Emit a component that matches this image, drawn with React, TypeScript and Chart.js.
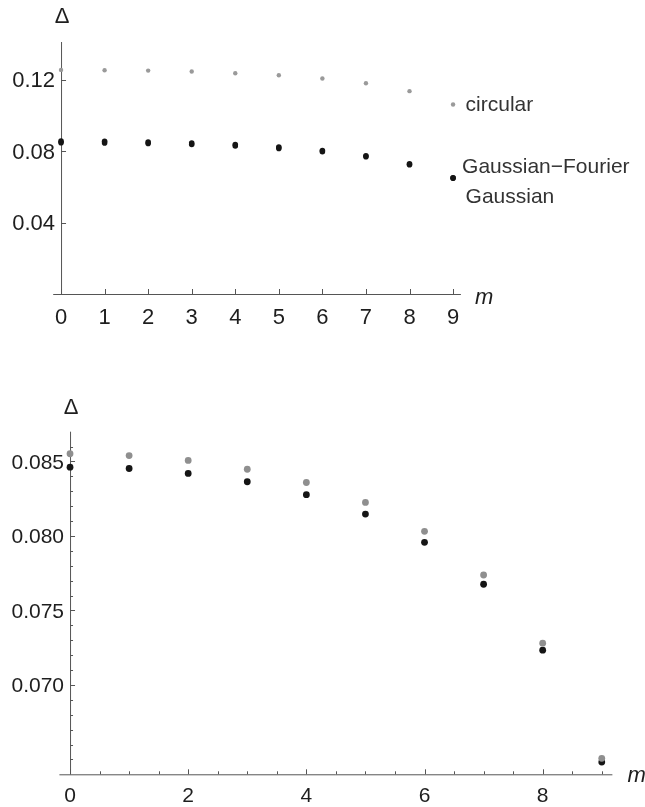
import React, { useEffect, useRef } from "react";
import { Chart, registerables } from "chart.js";

Chart.register(...registerables);

// ---------- data ----------
const mValues = [0, 1, 2, 3, 4, 5, 6, 7, 8, 9];
const circular = [0.1254, 0.1252, 0.125, 0.1245, 0.1235, 0.1224, 0.1206, 0.1179, 0.1135, 0.106];
const gaussianFourier = [0.08552, 0.0854, 0.08507, 0.08448, 0.08359, 0.08225, 0.08031, 0.07738, 0.0728, 0.06507];
const gaussian = [0.08462, 0.08453, 0.0842, 0.08364, 0.08277, 0.08147, 0.07957, 0.07676, 0.07233, 0.06482];

const seriesLabels = ["circular", "Gaussian\u2212Fourier", "Gaussian"];
const yAxisTitle = "\u0394";
const xAxisTitle = "m";

const topXTicks = [0, 1, 2, 3, 4, 5, 6, 7, 8, 9];
const topXTickLabels = ["0", "1", "2", "3", "4", "5", "6", "7", "8", "9"];
const topYTicks = [0.04, 0.08, 0.12];
const topYTickLabels = ["0.04", "0.08", "0.12"];

const bottomXTicks = [0, 2, 4, 6, 8];
const bottomXTickLabels = ["0", "2", "4", "6", "8"];
const bottomXMinorTicks = [0.5, 1, 1.5, 2.5, 3, 3.5, 4.5, 5, 5.5, 6.5, 7, 7.5, 8.5, 9];
const bottomYTicks = [0.07, 0.075, 0.08, 0.085];
const bottomYTickLabels = ["0.070", "0.075", "0.080", "0.085"];
const bottomYMinorTicks = [0.065, 0.066, 0.067, 0.068, 0.069, 0.071, 0.072, 0.073, 0.074, 0.076, 0.077, 0.078, 0.079, 0.081, 0.082, 0.083, 0.084, 0.086];

const FONT = '"Liberation Sans", Arial, Helvetica, sans-serif';
const AXIS_COLOR = "#555555";
const TEXT_COLOR = "#1e1e1e";

type AxesCfg = {
  xMajor: number[];
  xLabels: string[];
  xMinor: number[];
  yMajor: number[];
  yLabels: string[];
  yMinor: number[];
  tickFont: number;
  xLabelDrop: number;
  titleFont: number;
  deltaRise: number;
  mOffsetX: number;
  mOffsetY: number;
  legend?: boolean;
};

const axesPlugin = {
  id: "mathAxes",
  beforeDatasetsDraw(chart: any, _args: any, opts: AxesCfg) {
    const ctx = chart.ctx;
    const xs = chart.scales.x;
    const ys = chart.scales.y;
    const x0 = xs.getPixelForValue(0);
    const yBase = ys.getPixelForValue(ys.min);
    const yTop = ys.getPixelForValue(ys.max);
    const xLeft = xs.getPixelForValue(xs.min);
    const xRight = xs.getPixelForValue(xs.max);
    ctx.save();
    ctx.strokeStyle = AXIS_COLOR;
    ctx.lineWidth = 1;
    ctx.beginPath();
    ctx.moveTo(xLeft, yBase + 0.5);
    ctx.lineTo(xRight, yBase + 0.5);
    ctx.moveTo(x0 + 0.5, yBase);
    ctx.lineTo(x0 + 0.5, yTop);
    opts.xMajor.forEach((v) => {
      const p = Math.round(xs.getPixelForValue(v)) + 0.5;
      ctx.moveTo(p, yBase);
      ctx.lineTo(p, yBase - 5);
    });
    opts.xMinor.forEach((v) => {
      const p = Math.round(xs.getPixelForValue(v)) + 0.5;
      ctx.moveTo(p, yBase);
      ctx.lineTo(p, yBase - 3);
    });
    opts.yMajor.forEach((v) => {
      const p = Math.round(ys.getPixelForValue(v)) + 0.5;
      ctx.moveTo(x0, p);
      ctx.lineTo(x0 + 5, p);
    });
    opts.yMinor.forEach((v) => {
      const p = Math.round(ys.getPixelForValue(v)) + 0.5;
      ctx.moveTo(x0, p);
      ctx.lineTo(x0 + 3, p);
    });
    ctx.stroke();

    ctx.fillStyle = TEXT_COLOR;
    ctx.font = `${opts.tickFont}px ${FONT}`;
    ctx.textBaseline = "alphabetic";
    ctx.textAlign = "center";
    opts.xMajor.forEach((v, i) => {
      ctx.fillText(opts.xLabels[i], xs.getPixelForValue(v), yBase + opts.xLabelDrop);
    });
    ctx.textAlign = "right";
    opts.yMajor.forEach((v, i) => {
      ctx.fillText(opts.yLabels[i], x0 - 6, ys.getPixelForValue(v) + opts.tickFont * 0.35);
    });
    ctx.font = `${opts.titleFont}px ${FONT}`;
    ctx.textAlign = "center";
    ctx.fillText(yAxisTitle, x0 + 1, yTop - opts.deltaRise);
    ctx.font = `italic ${opts.titleFont}px ${FONT}`;
    ctx.textAlign = "left";
    ctx.fillText(xAxisTitle, xRight + opts.mOffsetX, yBase + opts.mOffsetY);
    ctx.restore();
  },
  afterDatasetsDraw(chart: any, _args: any, opts: AxesCfg) {
    if (!opts.legend) return;
    const ctx = chart.ctx;
    const xs = chart.scales.x;
    const ys = chart.scales.y;
    const last = mValues.length - 1;
    const px = xs.getPixelForValue(mValues[last]);
    const pc = ys.getPixelForValue(circular[last]);
    const pg = ys.getPixelForValue((gaussianFourier[last] + gaussian[last]) / 2);
    ctx.save();
    ctx.fillStyle = "#333333";
    ctx.font = `21px ${FONT}`;
    ctx.textAlign = "left";
    ctx.textBaseline = "alphabetic";
    ctx.fillText(seriesLabels[0], px + 12.5, pc + 6.5);
    ctx.fillText(seriesLabels[1], px + 9, pg - 5);
    ctx.fillText(seriesLabels[2], px + 12.5, pg + 25);
    ctx.restore();
  },
};

function makePoints(ys: number[]) {
  return mValues.map((m, i) => ({ x: m, y: ys[i] }));
}

type PanelProps = {
  top: number;
  height: number;
  padding: { left: number; right: number; top: number; bottom: number };
  xMin: number;
  xMax: number;
  yMin: number;
  yMax: number;
  datasets: any[];
  axes: AxesCfg;
};

function Panel(p: PanelProps) {
  const ref = useRef<HTMLCanvasElement | null>(null);
  useEffect(() => {
    if (!ref.current) return;
    const chart = new Chart(ref.current, {
      type: "scatter",
      data: { datasets: p.datasets },
      options: {
        animation: false,
        responsive: false,
        layout: { padding: p.padding },
        scales: {
          x: { type: "linear", min: p.xMin, max: p.xMax, display: false },
          y: { type: "linear", min: p.yMin, max: p.yMax, display: false },
        },
        plugins: {
          legend: { display: false },
          tooltip: { enabled: false },
          mathAxes: p.axes,
        } as any,
      },
      plugins: [axesPlugin],
    });
    return () => chart.destroy();
  }, []);
  return (
    <canvas
      ref={ref}
      width={645}
      height={p.height}
      style={{ position: "absolute", left: 0, top: p.top, width: 645, height: p.height }}
    />
  );
}

export default function App() {
  useEffect(() => {
    document.body.style.margin = "0";
    document.body.style.background = "#ffffff";
  }, []);

  const topDatasets = [
    { label: seriesLabels[0], data: makePoints(circular), pointRadius: 2.2, pointBackgroundColor: "#9a9a9a", pointBorderWidth: 0, showLine: false, clip: false },
    { label: seriesLabels[1], data: makePoints(gaussianFourier), pointRadius: 2.8, pointBackgroundColor: "#151515", pointBorderWidth: 0, showLine: false, clip: false },
    { label: seriesLabels[2], data: makePoints(gaussian), pointRadius: 2.8, pointBackgroundColor: "#151515", pointBorderWidth: 0, showLine: false, clip: false },
  ];
  const bottomDatasets = [
    { label: seriesLabels[1], data: makePoints(gaussianFourier), pointRadius: 3.4, pointBackgroundColor: "#8f8f8f", pointBorderWidth: 0, showLine: false, clip: false },
    { label: seriesLabels[2], data: makePoints(gaussian), pointRadius: 3.4, pointBackgroundColor: "#151515", pointBorderWidth: 0, showLine: false, clip: false },
  ];

  return (
    <div style={{ position: "absolute", left: 0, top: 0, width: 645, height: 807, background: "#fff" }}>
      <Panel
        top={0}
        height={340}
        padding={{ left: 53.2, right: 184.1, top: 42, bottom: 46 }}
        xMin={-0.18}
        xMax={9.18}
        yMin={0}
        yMax={0.141}
        datasets={topDatasets}
        axes={{
          xMajor: topXTicks,
          xLabels: topXTickLabels,
          xMinor: [],
          yMajor: topYTicks,
          yLabels: topYTickLabels,
          yMinor: [],
          tickFont: 22,
          xLabelDrop: 29.5,
          titleFont: 22,
          deltaRise: 19,
          mOffsetX: 14,
          mOffsetY: 10,
          legend: true,
        }}
      />
      <Panel
        top={380}
        height={427}
        padding={{ left: 59.4, right: 32.6, top: 51.7, bottom: 32.7 }}
        xMin={-0.18}
        xMax={9.18}
        yMin={0.064}
        yMax={0.087}
        datasets={bottomDatasets}
        axes={{
          xMajor: bottomXTicks,
          xLabels: bottomXTickLabels,
          xMinor: bottomXMinorTicks,
          yMajor: bottomYTicks,
          yLabels: bottomYTickLabels,
          yMinor: bottomYMinorTicks,
          tickFont: 21,
          xLabelDrop: 27.5,
          titleFont: 22,
          deltaRise: 18,
          mOffsetX: 15,
          mOffsetY: 8,
        }}
      />
    </div>
  );
}
